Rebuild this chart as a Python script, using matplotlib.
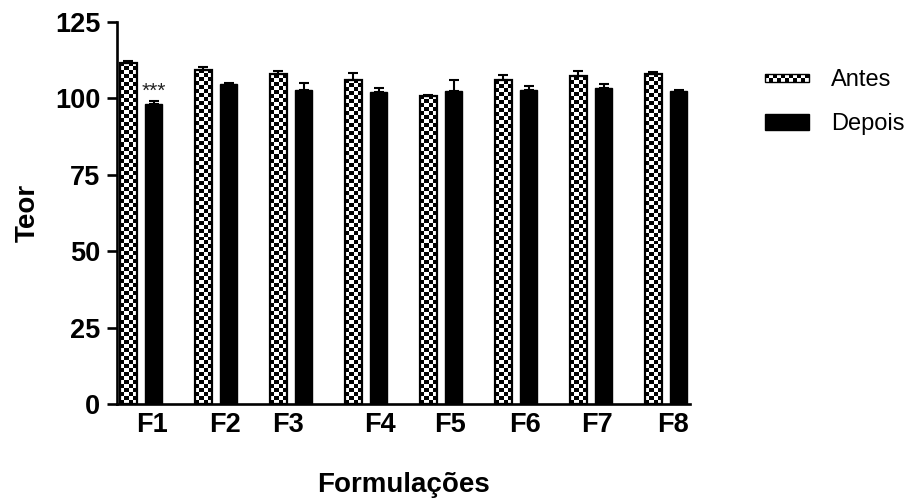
import numpy as np
import matplotlib
matplotlib.use('Agg')
import matplotlib.pyplot as plt
from matplotlib.patches import Patch, Rectangle
from matplotlib.legend_handler import HandlerPatch
from matplotlib.image import BboxImage
from matplotlib.transforms import Bbox, TransformedBbox

plt.rcParams['font.family'] = ['Liberation Sans', 'DejaVu Sans']

# dados
formulacoes = ['F1', 'F2', 'F3', 'F4', 'F5', 'F6', 'F7', 'F8']
antes = [111.6, 109.4, 107.9, 106.1, 100.9, 105.9, 107.3, 108.1]
antes_err = [0.6, 0.9, 1.0, 2.3, 0.3, 1.6, 1.6, 0.7]
depois = [98.3, 104.8, 102.8, 102.1, 102.4, 102.8, 103.5, 102.3]
depois_err = [0.9, 0.3, 2.1, 1.4, 3.5, 1.4, 1.2, 0.3]
label_shift = [0.15, 0.12, -0.04, 0.19, 0.12, 0.12, 0.08, 0.09]
yticks = [0, 25, 50, 75, 100, 125]

CELL = 4.0  # tamanho do quadrado do xadrez em px


def checker(rows, cols):
    i, j = np.indices((rows, cols))
    return ((i + j) % 2).astype(float)


class CheckerHandler(HandlerPatch):
    # simbolo xadrez mais baixo, como no original
    def create_artists(self, legend, orig_handle, xdescent, ydescent,
                       width, height, fontsize, trans):
        h2 = height * 0.5
        y0 = -ydescent + (height - h2) / 2
        bb = TransformedBbox(Bbox.from_bounds(-xdescent, y0, width, h2), trans)
        img = BboxImage(bb, cmap='gray', interpolation='nearest')
        img.set_data(checker(2, 11))
        img.set_clim(0, 1)
        r = Rectangle((-xdescent, y0), width, h2, facecolor='none',
                      edgecolor='black', linewidth=1, transform=trans)
        return [img, r]


fig = plt.figure(figsize=(9.16, 4.99), dpi=100)
ax = fig.add_axes([117 / 916, 1 - 404 / 499, (690 - 117) / 916, (404 - 22) / 499])

x = np.arange(len(formulacoes))
w = 0.227
off = 0.167

ax.set_xlim(-0.32, 7.32)
ax.set_ylim(0, 125)

bars_a = ax.bar(x - off, antes, w, facecolor='none', edgecolor='black', linewidth=1.6, zorder=3)
ax.bar(x + off, depois, w, color='black', edgecolor='black', linewidth=1, zorder=3)

# preenchimento xadrez
px_x = ax.transData.transform((1, 0))[0] - ax.transData.transform((0, 0))[0]
px_y = ax.transData.transform((0, 1))[1] - ax.transData.transform((0, 0))[1]
for b, xi, h in zip(bars_a, x, antes):
    cols = max(1, int(round(w * px_x / CELL)))
    rows = max(1, int(round(h * px_y / CELL)))
    im = ax.imshow(checker(rows, cols), cmap='gray', interpolation='nearest',
                   extent=(xi - off - w / 2, xi - off + w / 2, 0, h),
                   aspect='auto', vmin=0, vmax=1, zorder=2, origin='lower')
    im.set_clip_path(b)

ax.errorbar(x - off, antes, yerr=[np.zeros(8), antes_err], fmt='none',
            ecolor='black', elinewidth=1.5, capsize=3.5, capthick=1.5, zorder=4)
ax.errorbar(x + off, depois, yerr=[np.zeros(8), depois_err], fmt='none',
            ecolor='black', elinewidth=1.5, capsize=3.5, capthick=1.5, zorder=4)

ax.text(0 + off, 99.2, '***', ha='center', va='bottom', fontsize=15, color='#222222')

for s in ['top', 'right']:
    ax.spines[s].set_visible(False)
for s in ['left', 'bottom']:
    ax.spines[s].set_linewidth(1.9)

ax.set_yticks(yticks)
ax.set_yticklabels([str(t) for t in yticks], fontweight='bold', fontsize=19.5)
ax.tick_params(axis='y', length=7, width=1.9, pad=5)
ax.set_xticks(x + np.array(label_shift))
ax.set_xticklabels(formulacoes, fontweight='bold', fontsize=19.5)
ax.tick_params(axis='x', length=0, pad=6)

ax.set_ylabel('Teor', fontweight='bold', fontsize=20, labelpad=10)
ax.set_xlabel('Formulações', fontweight='bold', fontsize=20, labelpad=24)

handles = [Patch(facecolor='none', edgecolor='black', linewidth=1),
           Patch(facecolor='black', edgecolor='black')]
fig.legend(handles, ['Antes', 'Depois'], loc='upper left',
           bbox_to_anchor=(765 / 916, 1 - 69 / 499), frameon=False,
           fontsize=17, handlelength=1.85, handleheight=0.65,
           handletextpad=0.95, labelspacing=0.95, borderpad=0, borderaxespad=0,
           handler_map={handles[0]: CheckerHandler()})

fig.savefig('out.png', dpi=100)
